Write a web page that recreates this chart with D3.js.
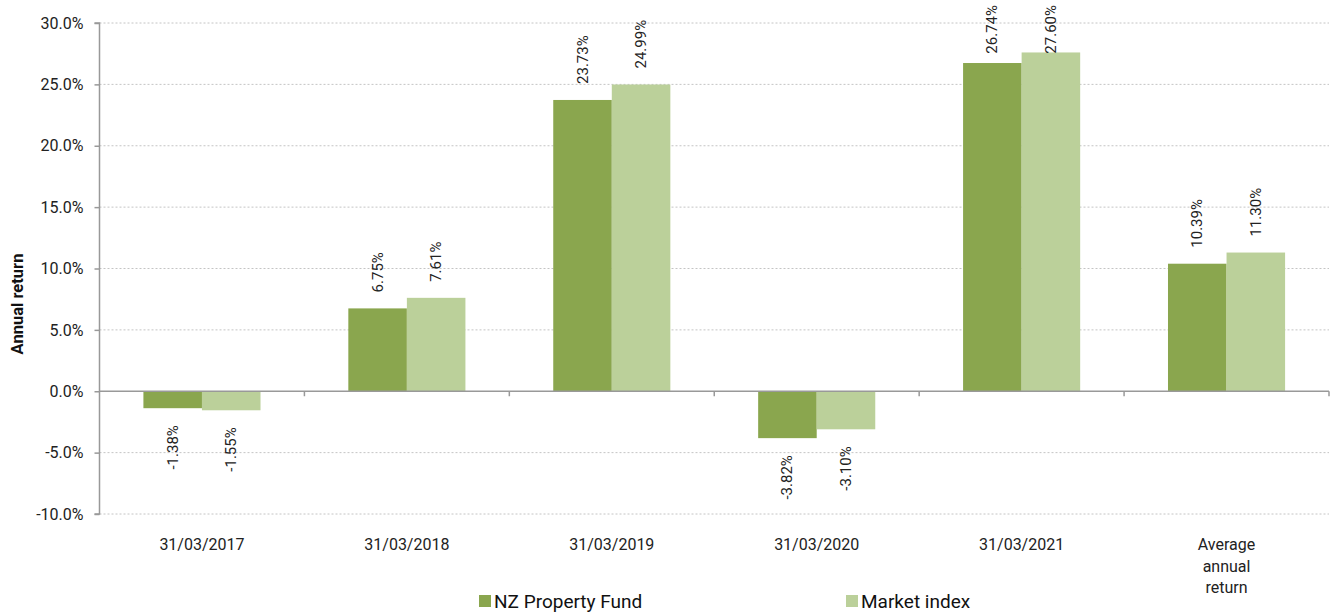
<!DOCTYPE html>
<html><head><meta charset="utf-8">
<script src="https://cdn.jsdelivr.net/npm/d3@7"></script>
<style>body{margin:0;background:#fff;} text{font-family:Roboto, "Noto Sans", sans-serif;}</style>
</head><body>
<svg id="c" width="1330" height="612"></svg>
<script>
const categories = [["31/03/2017"],["31/03/2018"],["31/03/2019"],["31/03/2020"],["31/03/2021"],["Average","annual","return"]];
const seriesNames = ["NZ Property Fund","Market index"];
const fundValues = [-1.38, 6.75, 23.73, -3.82, 26.74, 10.39];
const indexValues = [-1.55, 7.61, 24.99, -3.10, 27.60, 11.30];
const yTicks = [-10,-5,0,5,10,15,20,25,30];
const colors = ["#8aa64e","#bbd09a"];

(function(){
const svg = d3.select("#c");
const pLeft = 99.5, pRight = 1329, pTop = 23, pBottom = 514;
const catKeys = categories.map(c => c.join(" "));
const x = d3.scaleBand().domain(catKeys).range([pLeft, pRight]).padding(0);
const xs = d3.scaleBand().domain(seriesNames).range([0, x.bandwidth()]).paddingInner(0).paddingOuter(0.75);
const y = d3.scaleLinear().domain([-10, 30]).range([pBottom, pTop]);

// gridlines
svg.append("g").selectAll("line").data(yTicks.filter(t => t !== 0)).join("line")
  .attr("x1", pLeft).attr("x2", pRight).attr("y1", d => y(d)).attr("y2", d => y(d))
  .attr("stroke", "#c4c4c4").attr("stroke-width", 1).attr("stroke-dasharray", "2,2");

// bars
const data = [];
catKeys.forEach((k, i) => {
  data.push({cat: k, s: seriesNames[0], v: fundValues[i], c: colors[0]});
  data.push({cat: k, s: seriesNames[1], v: indexValues[i], c: colors[1]});
});
svg.append("g").selectAll("rect").data(data).join("rect")
  .attr("x", d => x(d.cat) + xs(d.s))
  .attr("width", xs.bandwidth())
  .attr("y", d => y(Math.max(0, d.v)))
  .attr("height", d => Math.abs(y(d.v) - y(0)))
  .attr("fill", d => d.c);

// y axis
const yAxis = d3.axisLeft(y).tickValues(yTicks).tickSize(5).tickFormat(d => d.toFixed(1) + "%");
const gy = svg.append("g").attr("transform", `translate(${pLeft},0)`).call(yAxis);
gy.select(".domain").attr("stroke", "#999").attr("stroke-width", 1.5).attr("d", `M-5,${pTop}H0V${pBottom}H-5`);
gy.selectAll(".tick line").attr("stroke", "#999").attr("stroke-width", 1.5);
gy.selectAll(".tick text").attr("font-size", 16).attr("fill", "#222").attr("x", -16).style("font-family", "Roboto");

// zero axis
svg.append("line").attr("x1", pLeft).attr("x2", pRight).attr("y1", y(0)).attr("y2", y(0))
  .attr("stroke", "#999").attr("stroke-width", 1.5);
// category boundary ticks
const bounds = catKeys.slice(1).map(k => x(k)).concat([pRight]);
svg.append("g").selectAll("line").data(bounds).join("line")
  .attr("x1", d => d).attr("x2", d => d).attr("y1", y(0)).attr("y2", y(0) + 5)
  .attr("stroke", "#999").attr("stroke-width", 1.5);

// category labels
const catG = svg.append("g").selectAll("text").data(categories).join("text")
  .attr("x", (d, i) => x(catKeys[i]) + x.bandwidth() / 2)
  .attr("y", 550)
  .attr("text-anchor", "middle").attr("font-size", 16).attr("fill", "#222");
catG.each(function(lines) {
  const tx = d3.select(this).attr("x");
  d3.select(this).selectAll("tspan").data(lines).join("tspan")
    .attr("x", tx).attr("dy", (d, j) => j === 0 ? 0 : 21.5).text(d => d);
});

// data labels
svg.append("g").selectAll("text").data(data).join("text")
  .attr("font-size", 15).attr("fill", "#222")
  .text(d => d.v.toFixed(2) + "%")
  .each(function(d) {
    const t = d3.select(this);
    const len = this.getComputedTextLength();
    const cx = x(d.cat) + xs(d.s) + xs.bandwidth() / 2 + 5;
    let yy;
    if (d.v >= 0) {
      yy = y(d.v) - 16;
      if (yy - len < 5) yy = 5 + len;
      t.attr("text-anchor", "start");
    } else {
      yy = y(d.v) + 17;
      t.attr("text-anchor", "end");
    }
    t.attr("transform", `translate(${cx},${yy}) rotate(-90)`);
  });

// y title
svg.append("text").attr("transform", `translate(23,304) rotate(-90)`)
  .attr("text-anchor", "middle").attr("font-size", 16.5).attr("font-weight", "bold").attr("fill", "#111")
  .text("Annual return");

// legend
const legX = [479, 846];
const lg = svg.append("g").selectAll("g").data(seriesNames).join("g")
  .attr("transform", (d, i) => `translate(${legX[i]},0)`);
lg.append("rect").attr("x", 0).attr("y", 595).attr("width", 12).attr("height", 12).attr("fill", (d, i) => colors[i]);
lg.append("text").attr("x", 15).attr("y", 608).attr("font-size", 19).attr("fill", "#111").text(d => d);
})();
</script>
</body></html>
